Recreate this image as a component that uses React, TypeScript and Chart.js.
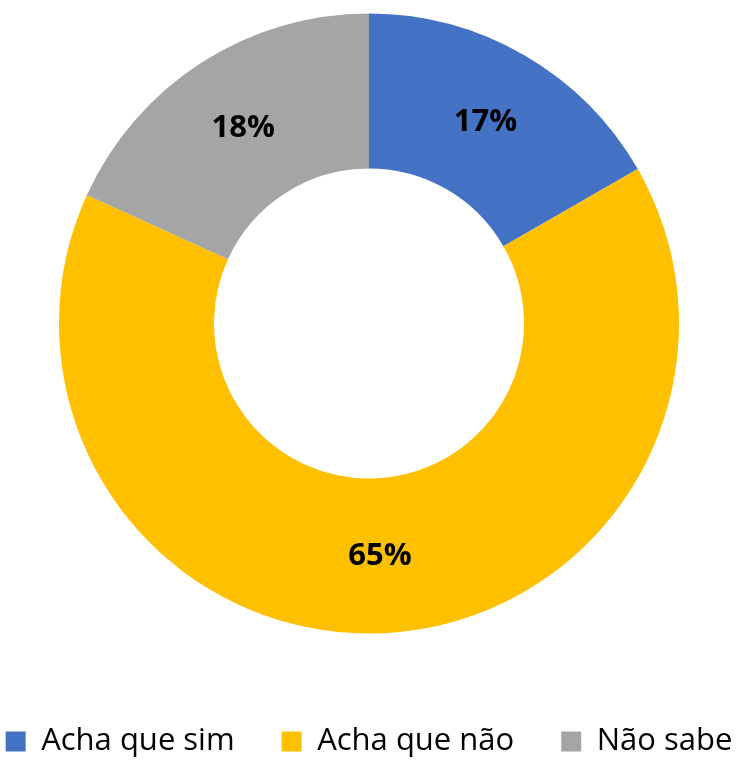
import React, { useEffect, useRef } from "react";
import { Chart, registerables } from "chart.js";

Chart.register(...registerables);

const categories = ["Acha que sim", "Acha que não", "Não sabe"];
const values = [16.7, 65.1, 18.2];
const colors = ["#4472C4", "#FFC000", "#A5A5A5"];

const FONT = "'Open Sans', 'Noto Sans', sans-serif";

const arcLabels = {
  id: "arcLabels",
  afterDatasetsDraw(chart: any) {
    const ctx = chart.ctx;
    const meta = chart.getDatasetMeta(0);
    const data = chart.data.datasets[0].data as number[];
    ctx.save();
    ctx.font = `bold 31px ${FONT}`;
    ctx.fillStyle = "#000000";
    ctx.textAlign = "center";
    ctx.textBaseline = "middle";
    meta.data.forEach((arc: any, i: number) => {
      const p = arc.getCenterPoint();
      ctx.fillText(`${Math.round(data[i])}%`, p.x, p.y);
    });
    ctx.restore();
  },
};

export default function App() {
  const ref = useRef<HTMLCanvasElement | null>(null);
  useEffect(() => {
    if (!ref.current) return;
    const chart = new Chart(ref.current, {
      type: "doughnut",
      data: {
        labels: categories,
        datasets: [
          {
            data: values,
            backgroundColor: colors,
            borderWidth: 0,
          },
        ],
      },
      options: {
        animation: false,
        responsive: false,
        maintainAspectRatio: false,
        radius: 310,
        cutout: "50%",
        layout: { padding: 0 },
        plugins: {
          tooltip: { enabled: false },
          legend: {
            position: "bottom",
            labels: {
              boxWidth: 20,
              boxHeight: 20,
              padding: 47,
              color: "#000000",
              font: { family: FONT, size: 31 },
            },
          },
        },
      },
      plugins: [arcLabels],
    });
    return () => chart.destroy();
  }, []);
  return (
    <div style={{ position: "fixed", left: -46, top: -32.5, width: 830, height: 799 }}>
      <canvas ref={ref} width={830} height={799} style={{ width: 830, height: 799, display: "block" }} />
    </div>
  );
}
